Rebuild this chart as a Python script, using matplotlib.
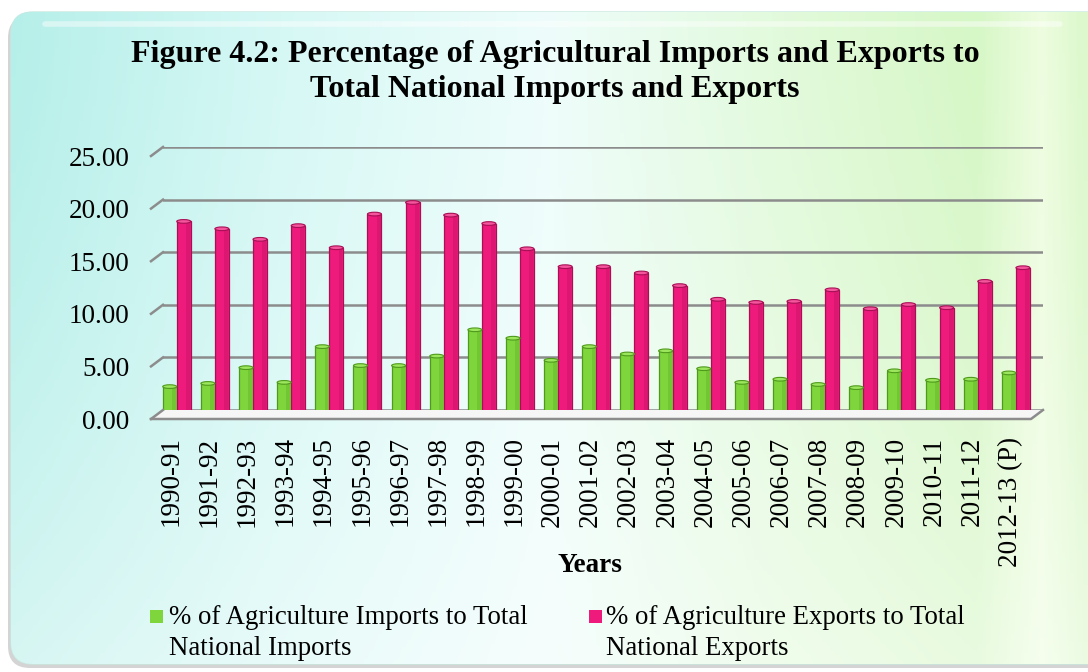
import matplotlib
matplotlib.use("Agg")
import matplotlib.pyplot as plt
import numpy as np
from matplotlib.patches import FancyBboxPatch, Ellipse, Rectangle
from matplotlib.transforms import ScaledTranslation
from matplotlib.colors import LinearSegmentedColormap

years = ['1990-91', '1991-92', '1992-93', '1993-94', '1994-95', '1995-96',
         '1996-97', '1997-98', '1998-99', '1999-00', '2000-01', '2001-02',
         '2002-03', '2003-04', '2004-05', '2005-06', '2006-07', '2007-08',
         '2008-09', '2009-10', '2010-11', '2011-12', '2012-13 (P)']
imports_pct = [2.7, 3.0, 4.5, 3.1, 6.5, 4.7, 4.7, 5.6, 8.1, 7.3, 5.2, 6.5,
               5.8, 6.1, 4.4, 3.1, 3.4, 2.9, 2.6, 4.2, 3.3, 3.4, 4.0]
exports_pct = [18.4, 17.7, 16.7, 18.0, 15.9, 19.1, 20.2, 19.0, 18.2, 15.8,
               14.1, 14.1, 13.5, 12.3, 11.0, 10.7, 10.8, 11.9, 10.1, 10.5,
               10.2, 12.7, 14.0]
yticks = [0, 5, 10, 15, 20, 25]

imp_label = '% of Agriculture Imports to Total\nNational Imports'
exp_label = '% of Agriculture Exports to Total\nNational Exports'
title = 'Figure 4.2: Percentage of Agricultural Imports and Exports to\nTotal National Imports and Exports'

green, green_dark, green_top = '#7ed63c', '#4f9a1c', '#9be65c'
pink, pink_dark, pink_top = '#ee1a7c', '#a80f55', '#f5559c'
grid_col = '#8c8c8c'
serif = ['Liberation Serif', 'DejaVu Serif']

fig = plt.figure(figsize=(10.88, 6.72), dpi=100)
W, H = 1088, 672

# background panel with gradient
bg = fig.add_axes([0, 0, 1, 1], zorder=-10)
bg.set_xlim(0, W)
bg.set_ylim(H, 0)
bg.axis('off')
shadow = FancyBboxPatch((8, 16), 1120, 652, boxstyle='round,pad=0,rounding_size=22',
                        fc='#b8b8b8', ec='none', alpha=0.6)
bg.add_patch(shadow)
frame = FancyBboxPatch((11, 12), 1120, 652, boxstyle='round,pad=0,rounding_size=22',
                       fc='none', ec='#c8e8e0', lw=1)
bg.add_patch(frame)
hx = np.linspace(0, 1, 400)
stops = [(0.0, '#b6efe9'), (0.25, '#d6f8f5'), (0.5, '#eefdfb'),
         (0.72, '#e2fadb'), (0.9, '#d6f7c6'), (0.96, '#eefde0'), (1.0, '#dcf8cc')]
cmap = LinearSegmentedColormap.from_list('bgc', stops)
row = cmap(hx)[:, :3]
vy = np.linspace(0, 1, 300)[:, None, None]
img = row[None, :, :] * (1 - 0.45 * vy ** 1.5) + 0.45 * vy ** 1.5
im = bg.imshow(img, extent=(11, W, 664, 12), aspect='auto', zorder=1)
im.set_clip_path(frame)
bg.plot([45, 1060], [24, 24], color='white', lw=4, alpha=0.45, zorder=2,
        solid_capstyle='round')

# plot area (back wall coordinates)
ax = fig.add_axes([163 / W, 1 - 410 / H, 880 / W, 263 / H])
ax.patch.set_alpha(0)
x = np.arange(len(years))
bw = 0.367
ax.set_xlim(-0.36, len(years) - 1 + 0.71)
ax.set_ylim(0, 25)
for s in ax.spines.values():
    s.set_visible(False)

front = ax.transData + ScaledTranslation(-12 / 100, -9 / 100, fig.dpi_scale_trans)
mid = ax.transData + ScaledTranslation(0, -5 / 100, fig.dpi_scale_trans)
x0, x1 = ax.get_xlim()

for v in yticks:
    ax.axhline(v, color=grid_col, lw=1.8, zorder=1)
# slanted ticks and front edge of floor
for v in yticks:
    p_back = ax.transData.transform((x0, v))
    p_front = front.transform((x0, v))
    fig.add_artist(plt.Line2D([p_back[0] / W, p_front[0] / W],
                              [p_back[1] / H, p_front[1] / H],
                              color=grid_col, lw=1.8))
pf0 = front.transform((x0, 0))
pf1 = front.transform((x1, 0))
pb1 = ax.transData.transform((x1, 0))
pb0 = ax.transData.transform((x0, 0))
fig.add_artist(plt.Polygon([[pb0[0] / W, pb0[1] / H], [pb1[0] / W, pb1[1] / H],
                            [pf1[0] / W, pf1[1] / H], [pf0[0] / W, pf0[1] / H]],
                           closed=True, fc='#f6f6f6', ec='none', zorder=0.5))
fig.add_artist(plt.Line2D([pf0[0] / W, pf1[0] / W, pb1[0] / W],
                          [pf0[1] / H, pf1[1] / H, pb1[1] / H], color=grid_col, lw=1.8))

# bars (cylinder style), sitting mid-depth on the floor
cap_h = 0.35
for xs, vals, c, cd, ct in [(x - bw / 2, imports_pct, green, green_dark, green_top),
                            (x + bw / 2, exports_pct, pink, pink_dark, pink_top)]:
    ax.bar(xs, vals, width=bw, color=c, edgecolor=cd, linewidth=0.9, zorder=3,
           transform=mid, clip_on=False)
    ax.bar(xs + bw * 0.3, vals, width=bw * 0.28, color=cd, alpha=0.25, linewidth=0,
           zorder=3, transform=mid, clip_on=False)
    for xi, v in zip(xs, vals):
        ax.add_patch(Ellipse((xi, v), bw, cap_h, fc=ct, ec=cd, lw=0.8, zorder=4,
                             transform=mid, clip_on=False))

ax.tick_params(length=0)
ax.set_yticks(yticks)
ax.set_yticklabels(['%.2f' % v for v in yticks], fontsize=19.5, family=serif)
ax.tick_params(axis='y', pad=24)
for lab in ax.get_yticklabels():
    lab.set_transform(lab.get_transform() + ScaledTranslation(0, -9 / 100, fig.dpi_scale_trans))
ax.set_xticks(x - 0.15)
ax.set_xticklabels(years, rotation=90, fontsize=19.5, family=serif, va='top')
ax.tick_params(axis='x', pad=19)

fig.text(590 / W, 1 - 565 / H, 'Years', ha='center', va='center', fontsize=19.5,
         fontweight='bold', family=serif)
fig.text(555 / W, 1 - 72 / H, title, ha='center', va='center', fontsize=23,
         fontweight='bold', family=serif, linespacing=1.3)

# legend
for sx, tx, c, lab in [(150, 169, green, imp_label), (589, 606, pink, exp_label)]:
    fig.add_artist(Rectangle((sx / W, 1 - 623 / H), 13 / W, 13 / H, fc=c, ec='none',
                             transform=fig.transFigure))
    fig.text(tx / W, 1 - 633 / H, lab, ha='left', va='center', fontsize=19.3,
             family=serif, linespacing=1.3)

fig.savefig('out.png', dpi=100)
